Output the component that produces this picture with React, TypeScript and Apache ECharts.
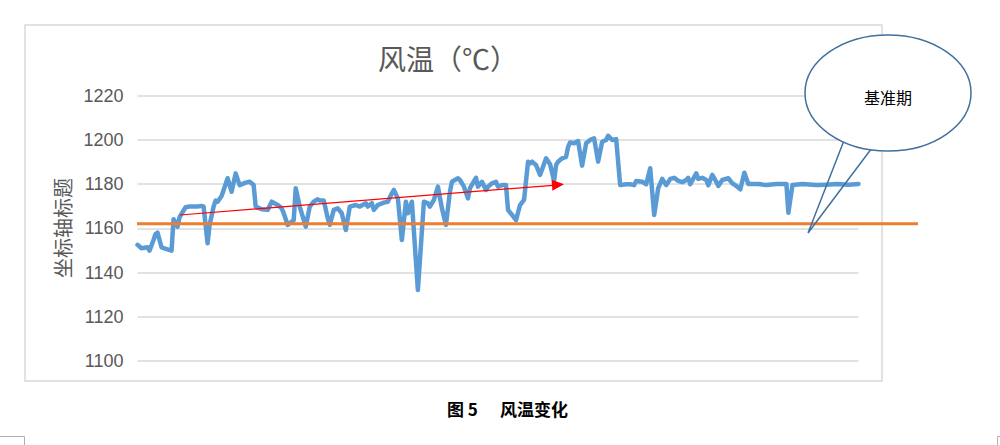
import React, { useEffect, useRef } from "react";
import * as echarts from "echarts";

// sample position (time order) and wind temperature readings (℃)
const sampleIdx = [
  0, 2, 5, 6, 8, 9, 10, 12, 15, 17, 18, 20, 21, 24, 26, 30, 32, 33, 35, 36, 38, 39, 40, 42, 45, 47, 49, 51, 54, 56, 58, 59, 62, 65, 67, 70, 72,
  73, 75, 78, 79, 81, 84, 86, 88, 90, 91, 93, 95, 96, 98, 100, 102, 104, 106, 109, 111, 114, 115, 117, 118, 120, 123, 125, 127, 128, 130, 132, 134, 135, 137, 140, 143, 145,
  146, 148, 150, 152, 154, 156, 157, 160, 161, 163, 165, 166, 169, 170, 172, 174, 175, 177, 179, 180, 182, 184, 185, 187, 189, 191, 193, 195, 196, 197, 199, 201, 204, 206, 208, 209, 210, 212, 214, 215,
  216, 218, 220, 222, 224, 226, 228, 230, 232, 234, 235, 237, 239, 241, 244, 246, 248, 249, 252, 254, 256, 258, 260, 262, 264, 266, 268, 270, 272, 274, 275, 276, 279, 280, 282, 284, 285, 287, 289,
  290, 292, 295, 297, 299, 301, 303, 305, 310, 314, 319, 324, 325, 327, 332, 339, 344, 349, 355, 360,
];
const windTemp = [
  1152.5, 1151.0, 1151.4, 1149.9, 1154.7, 1157.4, 1158.0, 1151.4, 1150.5, 1149.9, 1164.1, 1160.7, 1165.0, 1169.5, 1169.8, 1169.8, 1170.1, 1169.8, 1153.2, 1161.5, 1169.8, 1172.5, 1172.0, 1174.6, 1182.6, 1176.5, 1184.8, 1179.5, 1180.6, 1181.0, 1179.5, 1169.8, 1168.6, 1168.3, 1172.0, 1170.5, 1169.0,
  1166.8, 1161.5, 1163.7, 1178.1, 1169.8, 1160.7, 1169.8, 1172.0, 1173.1, 1172.5, 1172.5, 1164.5, 1161.5, 1168.3, 1169.0, 1166.8, 1159.2, 1169.8, 1170.5, 1169.8, 1171.3, 1169.8, 1171.3, 1168.3, 1170.5, 1171.6, 1172.0, 1175.8, 1177.3, 1173.5, 1154.7, 1172.0, 1166.8, 1172.0, 1132.1, 1172.0, 1171.3,
  1169.8, 1172.8, 1178.8, 1169.0, 1161.5, 1176.5, 1181.0, 1182.6, 1181.8, 1178.8, 1173.5, 1178.1, 1182.8, 1178.8, 1181.0, 1177.3, 1178.8, 1180.3, 1181.0, 1178.8, 1179.5, 1179.5, 1168.3, 1166.0, 1163.7, 1170.5, 1172.8, 1190.1, 1189.3, 1190.1, 1188.6, 1184.1, 1191.6, 1188.9, 1181.4, 1188.6, 1190.1, 1191.6, 1192.3, 1196.8,
  1198.8, 1198.4, 1199.4, 1188.3, 1198.4, 1199.9, 1200.6, 1190.1, 1199.1, 1199.9, 1201.8, 1199.9, 1200.3, 1179.5, 1179.9, 1179.9, 1179.5, 1181.4, 1181.0, 1179.9, 1187.1, 1166.0, 1178.1, 1182.3, 1179.5, 1182.3, 1182.8, 1181.4, 1180.8, 1181.8, 1182.8, 1179.9, 1184.8, 1182.3, 1182.8, 1181.8, 1179.5, 1184.1, 1181.0,
  1179.1, 1181.8, 1182.6, 1180.3, 1179.1, 1177.6, 1185.1, 1180.0, 1180.0, 1179.5, 1180.0, 1180.0, 1167.0, 1179.5, 1180.0, 1179.5, 1179.7, 1180.0, 1179.7, 1180.0,
];
const baselineValue = 1162;
const yMin = 1100;
const yMax = 1220;
const yStep = 20;

const titleText = "风温（℃）";
const yAxisTitle = "坐标轴标题";
const calloutText = "基准期";
const captionFig = "图 5";
const captionText = "风温变化";

const CJK = '"Noto Sans CJK SC", "Noto Sans", sans-serif';

export default function App() {
  const ref = useRef<HTMLDivElement>(null);
  useEffect(() => {
    if (!ref.current) return;
    const chart = echarts.init(ref.current, null, { renderer: "svg" });
    chart.setOption({
      animation: false,
      grid: { left: 137.5, width: 721, top: 95.5, height: 265.5, containLabel: false },
      xAxis: { type: "value", min: 0, max: 360, show: false },
      yAxis: {
        type: "value",
        min: yMin,
        max: yMax,
        interval: yStep,
        axisLine: { show: false },
        axisTick: { show: false },
        axisLabel: {
          color: "#595959",
          fontSize: 18,
          margin: 14,
          fontFamily: '"Liberation Sans", Arial, sans-serif',
          formatter: (v: number) => String(v),
        },
        splitLine: { lineStyle: { color: "#d9d9d9", width: 1.5 } },
      },
      series: [
        {
          type: "line",
          data: sampleIdx.map((x, i) => [x, windTemp[i]]),
          showSymbol: false,
          symbol: "none",
          lineStyle: { color: "#5B9BD5", width: 4.5, join: "round", cap: "round" },
          z: 2,
        },
      ],
    });
    const oy = chart.convertToPixel({ yAxisIndex: 0 }, baselineValue) as number;
    const tip = [564, 184.3];
    chart.setOption({
      graphic: [
        { type: "rect", z: 0, shape: { x: 25, y: 25, width: 857, height: 356 }, style: { fill: "none", stroke: "#d9d9d9", lineWidth: 1.5 } },
        { type: "text", z: 10, x: 448, y: 58, style: { text: titleText, fill: "#595959", fontSize: 28, fontFamily: CJK, textAlign: "center", textVerticalAlign: "middle" } },
        { type: "text", z: 10, x: 62, y: 228, rotation: Math.PI / 2, style: { text: yAxisTitle, fill: "#595959", fontSize: 20, fontFamily: CJK, textAlign: "center", textVerticalAlign: "middle" } },
        { type: "line", z: 50, shape: { x1: 137, y1: oy, x2: 918, y2: oy }, style: { stroke: "#ED7D31", lineWidth: 3 } },
        { type: "line", z: 60, shape: { x1: 180, y1: 215, x2: 553, y2: 185.3 }, style: { stroke: "#ff0000", lineWidth: 1.2 } },
        { type: "polygon", z: 60, shape: { points: [tip, [552.4, 190.8], [551.6, 179.8]] }, style: { fill: "#ff0000" } },
        { type: "polyline", z: 70, shape: { points: [[852, 120], [808, 233], [893, 120]] }, style: { fill: "none", stroke: "#41719C", lineWidth: 1.5 } },
        { type: "ellipse", z: 71, shape: { cx: 888, cy: 93, rx: 83, ry: 58 }, style: { fill: "#ffffff", stroke: "#41719C", lineWidth: 1.5 } },
        { type: "text", z: 72, x: 888, y: 97, style: { text: calloutText, fill: "#000000", fontSize: 16, fontFamily: CJK, textAlign: "center", textVerticalAlign: "middle" } },
        { type: "text", z: 10, x: 447, y: 408, style: { text: captionFig, fill: "#000000", fontSize: 17, fontWeight: "bold", fontFamily: CJK, textAlign: "left", textVerticalAlign: "middle" } },
        { type: "text", z: 10, x: 500, y: 408, style: { text: captionText, fill: "#000000", fontSize: 17, fontWeight: "bold", fontFamily: CJK, textAlign: "left", textVerticalAlign: "middle" } },
        { type: "polyline", z: 10, shape: { points: [[0, 436.5], [24.5, 436.5], [24.5, 445]] }, style: { fill: "none", stroke: "#b0b0b0", lineWidth: 1 } },
        { type: "polyline", z: 10, shape: { points: [[997.5, 445], [997.5, 436.5], [1000, 436.5]] }, style: { fill: "none", stroke: "#b0b0b0", lineWidth: 1 } },
      ],
    });
    return () => chart.dispose();
  }, []);
  return <div ref={ref} style={{ position: "absolute", left: 0, top: 0, width: 1000, height: 445, background: "#ffffff" }} />;
}
